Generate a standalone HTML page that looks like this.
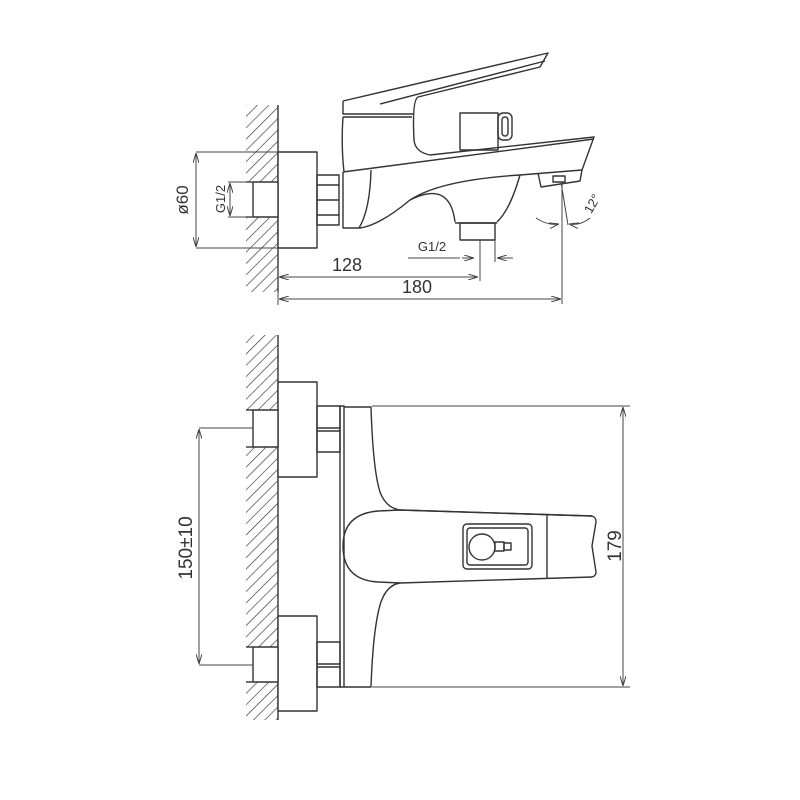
<!DOCTYPE html>
<html><head><style>html,body{margin:0;padding:0;background:#fff}svg{display:block}</style></head><body>
<svg width="800" height="800" viewBox="0 0 800 800" xmlns="http://www.w3.org/2000/svg">
<defs>
<pattern id="h" width="8" height="8" patternUnits="userSpaceOnUse" patternTransform="rotate(45)">
<line x1="0" y1="0" x2="0" y2="8" stroke="#333" stroke-width="1.3"/>
</pattern>
<marker id="a" viewBox="0 0 10 6" refX="10" refY="3" markerWidth="10" markerHeight="6" orient="auto-start-reverse" markerUnits="userSpaceOnUse"><path d="M0,0 L10,3 L0,6" fill="none" stroke="#444" stroke-width="1"/></marker>
</defs>
<g fill="none" stroke="#333" stroke-width="1.4" stroke-linejoin="round">
<!-- TOP VIEW -->
<rect x="246" y="105" width="32" height="77" fill="url(#h)" stroke="none"/>
<rect x="246" y="217" width="32" height="75" fill="url(#h)" stroke="none"/>
<line x1="278" y1="105" x2="278" y2="292"/>
<rect x="278" y="152" width="39" height="96" fill="#fff"/>
<rect x="253" y="182" width="25" height="35" fill="#fff"/>
<line x1="253" y1="182" x2="246" y2="182"/><line x1="253" y1="217" x2="246" y2="217"/>
<rect x="317" y="175" width="22" height="50"/>
<line x1="317" y1="185" x2="339" y2="185"/><line x1="317" y1="215" x2="339" y2="215"/>
<line x1="317" y1="200" x2="339" y2="200"/>
<!-- lever -->
<path d="M343,101 L548,53 L540,67 L418,97"/>
<path d="M380,104 L545,61"/>
<path d="M343,101 L343,114 L413,114"/>
<path d="M343,117 L412,117"/>
<path d="M418,97 Q412,100 414,140 Q415,152 430,155"/>
<path d="M343,117 Q341,145 344,172"/>
<!-- button -->
<rect x="460" y="113" width="38" height="37"/>
<rect x="498" y="113" width="14" height="27" rx="5"/>
<rect x="502" y="117" width="6" height="19" rx="3"/>
<!-- spout -->
<path d="M430,155 L594,137 L582,170"/>
<path d="M343,172 L594,139"/>
<path d="M343,172 L343,228 L360,228 Q380,225 410,200 Q440,180 520,175 L582,170"/>
<path d="M371,170 Q370,210 359,228"/>
<path d="M520,175 Q510,210 497,222"/>
<path d="M410,200 Q450,180 455,222"/>
<path d="M538,173 L541,187 L580,181 L582,170"/>
<rect x="553" y="176" width="12" height="6"/>
<rect x="460" y="223" width="35" height="17"/>
<line x1="455" y1="223" x2="497" y2="223"/>
</g>
<g fill="none" stroke="#444" stroke-width="1">
<line x1="196" y1="152" x2="278" y2="152"/><line x1="196" y1="248" x2="278" y2="248"/>
<line x1="196" y1="153" x2="196" y2="247" marker-start="url(#a)" marker-end="url(#a)"/>
<line x1="228" y1="182" x2="253" y2="182"/><line x1="228" y1="217" x2="253" y2="217"/>
<line x1="230" y1="183" x2="230" y2="216" marker-start="url(#a)" marker-end="url(#a)"/>
<line x1="279" y1="277" x2="478" y2="277" marker-start="url(#a)" marker-end="url(#a)"/>
<line x1="279" y1="299" x2="561" y2="299" marker-start="url(#a)" marker-end="url(#a)"/>
<line x1="278" y1="265" x2="278" y2="305"/>
<line x1="480" y1="240" x2="480" y2="281"/>
<line x1="495" y1="240" x2="495" y2="262"/>
<line x1="408" y1="258" x2="460" y2="258"/>
<line x1="462" y1="258" x2="474" y2="258" marker-end="url(#a)"/>
<line x1="513" y1="258" x2="497" y2="258" marker-end="url(#a)"/>
<line x1="562" y1="182" x2="562" y2="304"/>
<line x1="561" y1="182" x2="568" y2="225"/>
<path d="M536,218 Q548,226 559,224" marker-end="url(#a)"/>
<path d="M590,218 Q580,226 569,224" marker-end="url(#a)"/>
</g>
<g font-family="Liberation Sans, sans-serif" fill="#333">
<text x="0" y="0" font-size="17" transform="translate(188,200) rotate(-90)" text-anchor="middle">ø60</text>
<text x="0" y="0" font-size="13" transform="translate(225,199) rotate(-90)" text-anchor="middle">G1/2</text>
<text x="347" y="271" font-size="18" text-anchor="middle">128</text>
<text x="417" y="293" font-size="18" text-anchor="middle">180</text>
<text x="432" y="251" font-size="13" text-anchor="middle">G1/2</text>
<text x="0" y="0" font-size="13" transform="translate(596,206) rotate(-60)" text-anchor="middle">12°</text>
</g>
<!-- BOTTOM VIEW -->
<g fill="none" stroke="#333" stroke-width="1.4" stroke-linejoin="round">
<rect x="246" y="335" width="32" height="75" fill="url(#h)" stroke="none"/>
<rect x="246" y="447" width="32" height="200" fill="url(#h)" stroke="none"/>
<rect x="246" y="682" width="32" height="38" fill="url(#h)" stroke="none"/>
<line x1="278" y1="335" x2="278" y2="720"/>
<rect x="278" y="382" width="39" height="95" fill="#fff"/>
<rect x="278" y="616" width="39" height="95" fill="#fff"/>
<rect x="253" y="410" width="25" height="37" fill="#fff"/>
<rect x="253" y="647" width="25" height="35" fill="#fff"/>
<line x1="246" y1="410" x2="253" y2="410"/><line x1="246" y1="447" x2="253" y2="447"/>
<line x1="246" y1="647" x2="253" y2="647"/><line x1="246" y1="682" x2="253" y2="682"/>
<rect x="317" y="406" width="23" height="46"/>
<line x1="317" y1="428" x2="340" y2="428"/><line x1="317" y1="431" x2="340" y2="431"/>
<rect x="317" y="642" width="23" height="45"/>
<line x1="317" y1="664" x2="340" y2="664"/><line x1="317" y1="667" x2="340" y2="667"/>
<rect x="340" y="406" width="4" height="281"/>
<path d="M344,407 L371,407 Q373,470 380,492 Q386,508 400,510"/>
<path d="M344,687 L371,687 Q373,630 380,605 Q386,585 400,583"/>
<path d="M400,510 L378,511 Q343,514 343,546 Q343,580 378,582 L400,583 L592,577 Q596,576 596,572 L592,546 L596,522 Q596,517 592,516 Z"/>
<path d="M400,510 L592,516"/>
<line x1="547" y1="515" x2="547" y2="578"/>
<rect x="463" y="524" width="69" height="45" rx="4"/>
<rect x="467" y="528" width="61" height="37" rx="3"/>
<circle cx="482" cy="547" r="13"/>
<rect x="495" y="542" width="9" height="9"/>
<rect x="504" y="543" width="7" height="7"/>
</g>
<g fill="none" stroke="#444" stroke-width="1">
<line x1="372" y1="406" x2="630" y2="406"/>
<line x1="372" y1="687" x2="630" y2="687"/>
<line x1="623" y1="407" x2="623" y2="686" marker-start="url(#a)" marker-end="url(#a)"/>
<line x1="199" y1="428" x2="253" y2="428"/>
<line x1="199" y1="665" x2="253" y2="665"/>
<line x1="199" y1="429" x2="199" y2="664" marker-start="url(#a)" marker-end="url(#a)"/>
</g>
<g font-family="Liberation Sans, sans-serif" fill="#333">
<text x="0" y="0" font-size="19" transform="translate(192,548) rotate(-90)" text-anchor="middle">150±10</text>
<text x="0" y="0" font-size="19" transform="translate(621,546) rotate(-90)" text-anchor="middle">179</text>
</g>
</svg>
</body></html>
